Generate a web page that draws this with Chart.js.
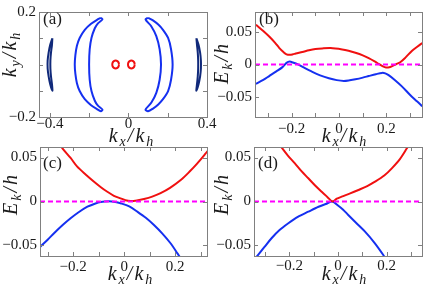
<!DOCTYPE html>
<html>
<head>
<meta charset="utf-8">
<script src="https://cdn.jsdelivr.net/npm/chart.js@4.4.0/dist/chart.umd.min.js"></script>
<style>
    html, body { margin: 0; padding: 0; background: #fff; }
    #wrap { position: relative; width: 436px; height: 286px; overflow: hidden; }
    #wrap canvas { position: absolute; left: 0; top: 0; }
</style>
</head>
<body>
<div id="wrap">
    <canvas id="chartA" width="436" height="286"></canvas>
    <canvas id="chartB" width="436" height="286"></canvas>
    <canvas id="chartC" width="436" height="286"></canvas>
    <canvas id="chartD" width="436" height="286"></canvas>
</div>
<script>
// ---- panel (a): contours in the kx-ky plane, [kx, ky]
const aLeftThin = [[-0.387, 0.100], [-0.398, 0.075], [-0.406, 0.045], [-0.411, 0.015], [-0.411, -0.015], [-0.406, -0.045], [-0.398, -0.075], [-0.387, -0.100],
    [-0.389, -0.075], [-0.394, -0.045], [-0.397, -0.015], [-0.397, 0.015], [-0.394, 0.045], [-0.389, 0.075], [-0.387, 0.100]];
const aRightThin = [[0.346, 0.100], [0.357, 0.075], [0.365, 0.045], [0.369, 0.015], [0.369, -0.015], [0.365, -0.045], [0.357, -0.075], [0.346, -0.100],
    [0.349, -0.075], [0.353, -0.045], [0.355, -0.015], [0.355, 0.015], [0.353, 0.045], [0.349, 0.075], [0.346, 0.100]];
const aLeftBig = [[-0.140, 0.178], [-0.160, 0.170], [-0.190, 0.155], [-0.222, 0.132], [-0.248, 0.101], [-0.262, 0.071], [-0.270, 0.035], [-0.273, 0.0],
    [-0.270, -0.035], [-0.262, -0.071], [-0.248, -0.101], [-0.222, -0.132], [-0.190, -0.155], [-0.160, -0.170], [-0.140, -0.178], [-0.132, -0.172],
    [-0.155, -0.157], [-0.171, -0.138], [-0.188, -0.101], [-0.197, -0.058], [-0.200, 0.0], [-0.197, 0.058], [-0.188, 0.101], [-0.171, 0.138],
    [-0.155, 0.157], [-0.132, 0.172], [-0.140, 0.178]];
const aRightBig = [[0.100, 0.178], [0.125, 0.168], [0.152, 0.152], [0.176, 0.132], [0.202, 0.101], [0.217, 0.058], [0.225, 0.0], [0.217, -0.058],
    [0.202, -0.101], [0.176, -0.132], [0.152, -0.152], [0.125, -0.168], [0.100, -0.178], [0.087, -0.172], [0.117, -0.145], [0.142, -0.108],
    [0.159, -0.058], [0.166, 0.0], [0.159, 0.058], [0.142, 0.108], [0.117, 0.145], [0.087, 0.172], [0.100, 0.178]];
const aLeftRing = [[-0.048, 0], [-0.050, 0.0075], [-0.056, 0.013], [-0.065, 0.015], [-0.074, 0.013], [-0.080, 0.0075], [-0.082, 0], [-0.080, -0.0075],
    [-0.074, -0.013], [-0.065, -0.015], [-0.056, -0.013], [-0.050, -0.0075], [-0.048, 0]];
const aRightRing = [[0.032, 0], [0.030, 0.0075], [0.024, 0.013], [0.015, 0.015], [0.006, 0.013], [0.000, 0.0075], [-0.002, 0], [0.000, -0.0075],
    [0.006, -0.013], [0.015, -0.015], [0.024, -0.013], [0.030, -0.0075], [0.032, 0]];
const aXTicks = [-0.4, -0.2, 0, 0.2, 0.4];
const aXLabels = [-0.4, 0, 0.4];
const aYTicks = [-0.2, -0.1, 0, 0.1, 0.2];
const aYLabels = [-0.2, 0.2];

// ---- panels (b)-(d): bands E_k/h against kx/kh, [kx, E]
const bUpper = [[-0.351, 0.0607], [-0.32, 0.051], [-0.295, 0.0426], [-0.27, 0.033], [-0.253, 0.0254], [-0.235, 0.019], [-0.222, 0.0155], [-0.208, 0.0147],
    [-0.195, 0.0155], [-0.183, 0.0167], [-0.155, 0.019], [-0.127, 0.0216], [-0.1, 0.0235], [-0.071, 0.0245], [-0.036, 0.025], [0.013, 0.023],
    [0.04, 0.021], [0.069, 0.018], [0.1, 0.014], [0.125, 0.0098], [0.15, 0.0048], [0.167, 0.001], [0.185, -0.0028], [0.198, -0.0045],
    [0.212, -0.0042], [0.224, -0.0025], [0.24, 0.0003], [0.258, 0.0034], [0.28, 0.0105], [0.307, 0.0206], [0.33, 0.027], [0.351, 0.0328]];
const bLower = [[-0.351, -0.0294], [-0.32, -0.0235], [-0.295, -0.0176], [-0.265, -0.0105], [-0.239, -0.004], [-0.222, 0.0025], [-0.208, 0.0044],
    [-0.195, 0.003], [-0.176, 0.0005], [-0.15, -0.0045], [-0.113, -0.0113], [-0.08, -0.0165], [-0.043, -0.021], [-0.01, -0.0238], [0.02, -0.025],
    [0.045, -0.024], [0.069, -0.0225], [0.1, -0.02], [0.125, -0.0176], [0.155, -0.0148], [0.181, -0.0128], [0.195, -0.0135], [0.209, -0.0162],
    [0.235, -0.0235], [0.265, -0.0333], [0.3, -0.0465], [0.33, -0.0565], [0.351, -0.0637]];
const cUpper = [[-0.26, 0.068], [-0.242, 0.0605], [-0.21, 0.0495], [-0.184, 0.0396], [-0.15, 0.0305], [-0.118, 0.0225], [-0.09, 0.016], [-0.066, 0.0111],
    [-0.04, 0.0065], [-0.014, 0.0036], [0.005, 0.0015], [0.025, 0.0006], [0.05, 0.0012], [0.078, 0.0028], [0.11, 0.0055], [0.143, 0.0095],
    [0.18, 0.0155], [0.222, 0.0244], [0.255, 0.0335], [0.287, 0.0434], [0.32, 0.0548], [0.34, 0.062]];
const cLower = [[-0.335, -0.053], [-0.3, -0.0435], [-0.275, -0.0361], [-0.24, -0.0265], [-0.21, -0.0191], [-0.18, -0.0125], [-0.144, -0.0059],
    [-0.115, -0.0025], [-0.092, -0.0006], [-0.06, 0.0002], [-0.035, -0.0005], [-0.014, -0.002], [0.02, -0.0055], [0.052, -0.0116], [0.085, -0.0185],
    [0.117, -0.0267], [0.15, -0.0365], [0.182, -0.0475], [0.209, -0.059], [0.22, -0.064]];
const dUpper = [[-0.245, 0.066], [-0.232, 0.0616], [-0.205, 0.052], [-0.177, 0.0434], [-0.15, 0.0345], [-0.122, 0.0264], [-0.095, 0.0185],
    [-0.067, 0.0111], [-0.045, 0.0055], [-0.023, 0.0], [-0.005, 0.0032], [0.015, 0.0055], [0.05, 0.0092], [0.084, 0.0131], [0.12, 0.0175],
    [0.152, 0.0225], [0.19, 0.0295], [0.221, 0.0377], [0.255, 0.0485], [0.283, 0.0605], [0.295, 0.066]];
const dLower = [[-0.345, -0.066], [-0.328, -0.0608], [-0.3, -0.051], [-0.273, -0.0418], [-0.24, -0.0325], [-0.204, -0.0248], [-0.165, -0.0175],
    [-0.122, -0.0116], [-0.08, -0.006], [-0.05, -0.0028], [-0.023, 0.0], [0.0, -0.0045], [0.02, -0.009], [0.042, -0.0153], [0.075, -0.0245],
    [0.111, -0.0343], [0.15, -0.047], [0.186, -0.0608], [0.195, -0.065]];
const bandXTicks = [-0.3, -0.2, -0.1, 0, 0.1, 0.2, 0.3];
const bandXLabels = [-0.2, 0, 0.2];
const bandYTicks = [-0.05, 0, 0.05];
const bandYLabels = [-0.05, 0, 0.05];

const BLUE = '#1530f0';
const NAVY = '#10297a';
const RED = '#f01010';
const MAGENTA = '#ff00ff';
const FONT = 'Liberation Serif';
const Y_AXIS_W = 38;
const X_AXIS_H = 30;

function toPts(arr) {
    return arr.map(function (p) { return { x: p[0], y: p[1] }; });
}

function fmt(v) {
    if (v === 0) return '0';
    return v < 0 ? '\u2212' + String(-v) : String(v);
}

function curve(arr, color, tension) {
    return { data: toPts(arr), borderColor: color, borderWidth: 2, showLine: true, pointRadius: 0, tension: tension, fill: false };
}

function zeroLine(range) {
    return { data: [{ x: range[0], y: 0 }, { x: range[1], y: 0 }], borderColor: MAGENTA, borderWidth: 2, borderDash: [5, 3], showLine: true, pointRadius: 0, tension: 0 };
}

function axis(range, ticks, labels, pad, horizontal) {
    return {
        type: 'linear',
        min: range[0],
        max: range[1],
        afterBuildTicks: function (s) { s.ticks = ticks.map(function (v) { return { value: v }; }); },
        afterFit: function (s) { if (horizontal) { s.height = X_AXIS_H; } else { s.width = Y_AXIS_W; } },
        grid: { display: false, drawTicks: false },
        border: { display: false },
        ticks: {
            autoSkip: false,
            maxRotation: 0,
            padding: pad,
            color: '#1a1a1a',
            font: { family: FONT, size: 15 },
            callback: function (v) { return labels.includes(v) ? fmt(v) : ''; }
        }
    };
}

// frame with inward tick marks on all four sides
const framePlugin = {
    id: 'frame',
    afterDatasetsDraw: function (chart) {
        const ctx = chart.ctx, a = chart.chartArea, sx = chart.scales.x, sy = chart.scales.y;
        ctx.save();
        ctx.strokeStyle = '#808080';
        ctx.lineWidth = 1;
        ctx.strokeRect(Math.round(a.left) + 0.5, Math.round(a.top) + 0.5, Math.round(a.right - a.left), Math.round(a.bottom - a.top));
        ctx.beginPath();
        sx.ticks.forEach(function (t) {
            const px = Math.round(sx.getPixelForValue(t.value)) + 0.5;
            ctx.moveTo(px, a.bottom); ctx.lineTo(px, a.bottom - 4);
            ctx.moveTo(px, a.top); ctx.lineTo(px, a.top + 4);
        });
        sy.ticks.forEach(function (t) {
            const py = Math.round(sy.getPixelForValue(t.value)) + 0.5;
            ctx.moveTo(a.left, py); ctx.lineTo(a.left + 4, py);
            ctx.moveTo(a.right, py); ctx.lineTo(a.right - 4, py);
        });
        ctx.stroke();
        ctx.restore();
    }
};

function drawMath(ctx, parts, x0, y0, rotate) {
    const gap = 2;
    ctx.save();
    ctx.translate(x0, y0);
    if (rotate) ctx.rotate(-Math.PI / 2);
    ctx.fillStyle = '#1a1a1a';
    ctx.textBaseline = 'alphabetic';
    ctx.textAlign = 'left';
    const fonts = parts.map(function (p) { return 'italic ' + (p[1] ? 14 : 20) + 'px ' + FONT; });
    const widths = parts.map(function (p, i) { ctx.font = fonts[i]; return ctx.measureText(p[0]).width; });
    let x = -(widths.reduce(function (s, w) { return s + w; }, 0) + gap * (parts.length - 1)) / 2;
    parts.forEach(function (p, i) {
        ctx.font = fonts[i];
        ctx.fillText(p[0], x, p[1] ? 4 : 0);
        x += widths[i] + gap;
    });
    ctx.restore();
}

function textPlugin(t) {
    return {
        id: 'panelText',
        afterDraw: function (chart) {
            const ctx = chart.ctx;
            ctx.save();
            ctx.fillStyle = '#1a1a1a';
            ctx.font = '17px ' + FONT;
            ctx.textBaseline = 'alphabetic';
            ctx.fillText(t.tag, t.tagPos[0], t.tagPos[1]);
            ctx.restore();
            drawMath(ctx, t.xTitle, t.xTitlePos[0], t.xTitlePos[1], false);
            drawMath(ctx, t.yTitle, t.yTitlePos[0], t.yTitlePos[1], true);
        }
    };
}

function makePanel(canvasId, p) {
    new Chart(document.getElementById(canvasId), {
        type: 'scatter',
        data: { datasets: p.datasets },
        options: {
            responsive: false,
            animation: false,
            devicePixelRatio: 1,
            layout: { padding: { left: p.area[0] - Y_AXIS_W, top: p.area[1], right: 436 - p.area[2], bottom: 286 - p.area[3] - X_AXIS_H } },
            plugins: { legend: { display: false }, tooltip: { enabled: false } },
            scales: {
                x: axis(p.xRange, p.xTicks, p.xLabels, p.xPad, true),
                y: axis(p.yRange, p.yTicks, p.yLabels, 3, false)
            }
        },
        plugins: [framePlugin, textPlugin(p.text)]
    });
}

const kxTitle = [['k', 0], ['x', 1], ['/', 0], ['k', 0], ['h', 1]];
const kyTitle = [['k', 0], ['y', 1], ['/', 0], ['k', 0], ['h', 1]];
const eTitle = [['E', 0], ['k', 1], ['/', 0], ['h', 0]];

const bRange = [-0.355, 0.35];
const cRange = [-0.33, 0.325];
const dRange = [-0.345, 0.345];

makePanel('chartA', {
    area: [39, 8, 207, 117],
    xRange: [-0.455, 0.4], yRange: [-0.2, 0.2],
    xTicks: aXTicks, xLabels: aXLabels, yTicks: aYTicks, yLabels: aYLabels, xPad: -2,
    datasets: [curve(aLeftRing, RED, 0.4), curve(aRightRing, RED, 0.4), curve(aLeftBig, BLUE, 0.3), curve(aRightBig, BLUE, 0.3),
        curve(aLeftThin, NAVY, 0.3), curve(aRightThin, NAVY, 0.3)],
    text: { tag: '(a)', tagPos: [43, 24], xTitle: kxTitle, xTitlePos: [131, 142], yTitle: kyTitle, yTitlePos: [16, 55] }
});

makePanel('chartB', {
    area: [255, 10, 422, 117],
    xRange: bRange, yRange: [-0.08, 0.08],
    xTicks: bandXTicks, xLabels: bandXLabels, yTicks: bandYTicks, yLabels: bandYLabels, xPad: 3,
    datasets: [zeroLine(bRange), curve(bUpper, RED, 0.3), curve(bLower, BLUE, 0.3)],
    text: { tag: '(b)', tagPos: [259, 24], xTitle: kxTitle, xTitlePos: [344, 142], yTitle: eTitle, yTitlePos: [228, 64] }
});

makePanel('chartC', {
    area: [40, 147, 207, 256],
    xRange: cRange, yRange: [-0.062, 0.062],
    xTicks: bandXTicks, xLabels: bandXLabels, yTicks: bandYTicks, yLabels: bandYLabels, xPad: 2,
    datasets: [zeroLine(cRange), curve(cUpper, RED, 0.3), curve(cLower, BLUE, 0.3)],
    text: { tag: '(c)', tagPos: [43, 168], xTitle: kxTitle, xTitlePos: [130, 280], yTitle: eTitle, yTitlePos: [17, 195] }
});

makePanel('chartD', {
    area: [254, 147, 422, 256],
    xRange: dRange, yRange: [-0.062, 0.062],
    xTicks: bandXTicks, xLabels: bandXLabels, yTicks: bandYTicks, yLabels: bandYLabels, xPad: 1,
    datasets: [zeroLine(dRange), curve(dUpper, RED, 0.3), curve(dLower, BLUE, 0.3)],
    text: { tag: '(d)', tagPos: [258, 168], xTitle: kxTitle, xTitlePos: [344, 280], yTitle: eTitle, yTitlePos: [228, 195] }
});
</script>
</body>
</html>
